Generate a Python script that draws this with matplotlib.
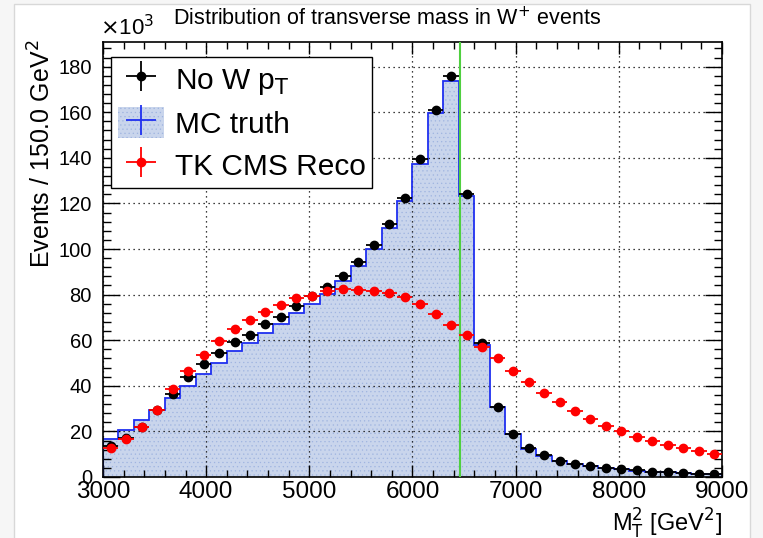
import matplotlib.pyplot as plt
import numpy as np
from matplotlib.patches import Rectangle
from matplotlib.ticker import MultipleLocator

plt.rcParams['font.family'] = ['Liberation Sans', 'DejaVu Sans']
plt.rcParams['hatch.linewidth'] = 0.4

# binning: 40 bins of 150 GeV^2 from 3000 to 9000
edges = np.arange(3000, 9001, 150)
centres = edges[:-1] + 75
w_mass2 = 6464.0  # 80.4^2

# values in units of 10^3 events
mc_truth = [16.7, 20.6, 24.8, 29.3, 34.6, 40.1, 45.1, 49.9, 55.1, 58.9,
            63.0, 67.2, 71.8, 75.7, 80.2, 85.9, 92.4, 99.9, 109.1, 121.1,
            137.3, 159.6, 173.9, 123.3, 57.8, 30.5, 18.8, 12.5, 9.1, 6.9,
            5.6, 4.7, 3.9, 3.3, 2.8, 2.3, 2.0, 1.7, 1.4, 1.2]
no_w_pt = [13.4, 17.1, 22.0, 29.6, 36.2, 43.7, 49.4, 54.3, 59.3, 62.5,
           67.2, 70.3, 74.8, 79.4, 83.5, 88.1, 94.2, 101.8, 110.8, 122.5,
           139.7, 161.0, 176.1, 124.2, 58.6, 30.6, 19.0, 12.7, 9.7, 7.2,
           5.9, 5.0, 4.0, 3.5, 2.9, 2.4, 2.1, 1.8, 1.5, 1.3]
tk_cms_reco = [12.8, 16.7, 21.8, 29.6, 38.4, 46.7, 53.6, 59.5, 64.7, 68.7,
               72.2, 75.4, 78.3, 79.5, 81.6, 82.3, 82.0, 81.6, 80.8, 78.8,
               76.0, 71.6, 66.6, 62.1, 57.1, 52.0, 46.6, 41.5, 36.8, 32.7,
               28.9, 25.3, 22.4, 20.2, 17.6, 15.8, 13.9, 12.7, 11.4, 10.3]

fig = plt.figure(figsize=(7.63, 5.38), dpi=100)
fig.patch.set_facecolor('#f6f6f6')
fig.add_artist(Rectangle((14 / 763, -0.01), 736 / 763, 1 - 4 / 538 + 0.01,
                         transform=fig.transFigure, facecolor='white',
                         edgecolor='#d8d8d8', lw=1, zorder=-10))

ax = fig.add_axes([103 / 763, 1 - 477 / 538, 619 / 763, 435 / 538])
ax.set_facecolor('none')

fill_col = '#c9d5ec'
hatch_col = '#9fb4e0'
ax.stairs(mc_truth, edges, fill=True, facecolor=fill_col, edgecolor=hatch_col,
          hatch='....', lw=0, zorder=1)
ax.stairs(mc_truth, edges, color='#1f2ff0', lw=1.3, zorder=2)

ax.errorbar(centres, no_w_pt, xerr=75, fmt='o', color='black', ms=6,
            elinewidth=1.3, capsize=0, zorder=4)
ax.errorbar(centres, tk_cms_reco, xerr=75, fmt='o', color='#ff0000', ms=6,
            elinewidth=1.3, capsize=0, zorder=5)

ax.axvline(w_mass2, color='#4fcf3f', lw=1.5, zorder=3)

ax.set_xlim(3000, 9000)
ax.set_ylim(0, 190.8)
ax.xaxis.set_major_locator(MultipleLocator(1000))
ax.xaxis.set_minor_locator(MultipleLocator(200))
ax.yaxis.set_major_locator(MultipleLocator(20))
ax.yaxis.set_minor_locator(MultipleLocator(4))
ax.tick_params(which='both', direction='in', top=True, right=True, width=1)
ax.tick_params(axis='y', which='major', length=12, labelsize=14.5, pad=8)
ax.tick_params(axis='y', which='minor', length=6)
ax.tick_params(axis='x', which='major', length=8.5, labelsize=17.5, pad=3)
ax.tick_params(axis='x', which='minor', length=5)
ax.grid(True, which='major', color='black', ls=(0, (1, 3)), lw=0.9, zorder=0)
for s in ax.spines.values():
    s.set_linewidth(1.2)

fig.text(42 / 763, 1 - 40 / 538, 'Events / 150.0 GeV$^{2}$', fontsize=18,
         rotation=90, ha='center', va='top')
fig.text(722 / 763, 1 - 532 / 538, r'M$_\mathrm{T}^{2}$ [GeV$^{2}$]', fontsize=17,
         ha='right', va='baseline')
fig.text(100 / 763, 1 - 28 / 538, r'$\times$10$^{3}$', fontsize=16,
         ha='left', va='center')
fig.text(387 / 763, 1 - 18 / 538, 'Distribution of transverse mass in W$^{+}$ events',
         fontsize=15.5, ha='center', va='center')

# legend-only handles
h_black = ax.errorbar([], [], xerr=[], yerr=[], fmt='o', color='black', ms=6,
                      elinewidth=1.3, capsize=0)
h_blue = ax.errorbar([], [], xerr=[], yerr=[], fmt='none', ecolor='#1f2ff0',
                     elinewidth=1.3, capsize=0)
h_red = ax.errorbar([], [], xerr=[], yerr=[], fmt='o', color='#ff0000', ms=6,
                    elinewidth=1.3, capsize=0)
h_fill = Rectangle((0, 0), 1, 1, facecolor=fill_col, edgecolor=hatch_col,
                   hatch='....', lw=0)

leg = ax.legend([h_black, (h_fill, h_blue), h_red],
                [r'No W p$_\mathrm{T}$', 'MC truth', 'TK CMS Reco'],
                loc='upper left', bbox_to_anchor=(0.013, 0.966), fontsize=21.5,
                frameon=True, fancybox=False, edgecolor='black', framealpha=1,
                handlelength=1.55, handleheight=1.2, handletextpad=0.36,
                borderpad=0.22, labelspacing=0.36, borderaxespad=0)
leg.get_frame().set_linewidth(1.0)
leg.set_zorder(10)

fig.savefig('out.png', dpi=100, facecolor=fig.get_facecolor())
